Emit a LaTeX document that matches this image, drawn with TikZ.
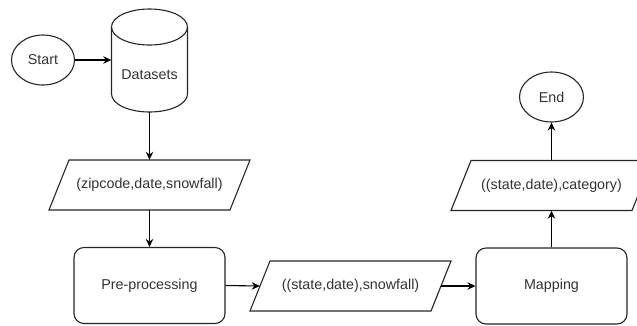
\documentclass[tikz,border=0pt]{standalone}
\usepackage{fontspec}
\setmainfont{Liberation Sans}
\usetikzlibrary{shapes.geometric,arrows.meta,calc}
\begin{document}
\begin{tikzpicture}[x=1pt,y=1pt,
  base/.style={draw=black!85, line width=1.1pt, fill=white, text=black!80,
    font=\fontsize{14.3}{17}\selectfont, inner sep=0pt},
  term/.style={base, ellipse, minimum width=63, minimum height=50},
  proc/.style={base, rectangle, rounded corners=10pt, minimum width=151, minimum height=76},
  io/.style={rectangle, text=black!80, font=\fontsize{14.3}{17}\selectfont,
    inner sep=0pt, minimum width=181, minimum height=50},
  para/.style={draw=black!85, line width=1.1pt, fill=white},
  flow/.style={draw=black, line width=1.1pt, -{Stealth[length=8pt,width=7.5pt]}},
  cyl/.style={draw=black!85, line width=1.1pt}]
\useasboundingbox (0,0) rectangle (637,-325);
\clip (0,0) rectangle (637,-325);
% Start
\node[term] (start) at (43,-60) {Start};
% Datasets cylinder
\node[inner sep=0, minimum width=76, minimum height=103] (ds) at (149.5,-60.5) {};
\draw[cyl, fill=white] (111.5,-27) -- (111.5,-94) arc[start angle=180, end angle=360, x radius=38, y radius=18] -- (187.5,-27);
\draw[cyl] (149.5,-27) ellipse [x radius=38, y radius=18];
\node[text=black!80, font=\fontsize{14.3}{17}\selectfont] (dstext) at (149.5,-75) {Datasets};
% Parallelogram outlines (drawn first) and their texts
\coordinate (c1) at (149.5,-185);
\coordinate (c2) at (350.5,-286);
\coordinate (c3) at (551.5,-185.5);
\foreach \c in {c1,c2,c3}{
  \draw[para] ($(\c)+(-100.5,-25)$) -- ($(\c)+(-80.5,25)$) -- ($(\c)+(100.5,25)$) -- ($(\c)+(80.5,-25)$) -- cycle;
}
\node[io] (p1) at (c1) {(zipcode,date,snowfall)};
\node[proc] (prep) at (149.5,-285.5) {Pre-processing};
\node[io] (p2) at (c2) {((state,date),snowfall)};
\node[proc] (map) at (551.5,-286) {Mapping};
\node[io] (p3) at (c3) {((state,date),category)};
\node[term, minimum width=64] (end) at (551.5,-97) {End};
% Connectors
\draw[flow] (start.east) -- (ds.west |- start.east);
\draw[flow] (ds.south) -- (p1.north);
\draw[flow] (p1.south) -- (prep.north);
\draw[flow] (prep.east) -- (p2.west);
\draw[flow] (p2.east) -- (map.west);
\draw[flow] (map.north) -- (p3.south);
\draw[flow] (p3.north) -- (end.south);
\end{tikzpicture}
\end{document}
